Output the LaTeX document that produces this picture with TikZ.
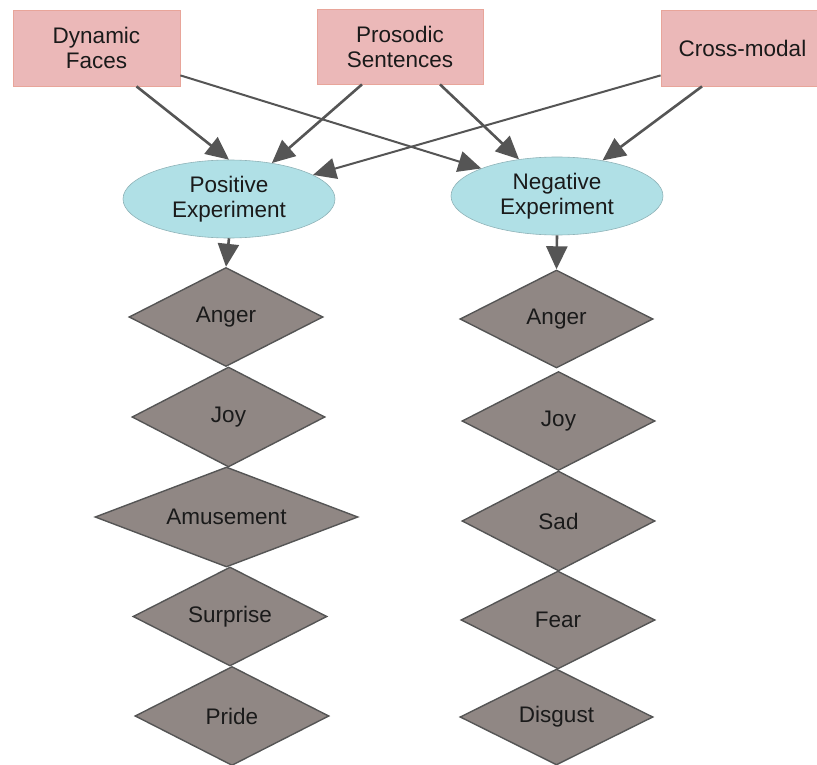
\documentclass[tikz,border=0pt]{standalone}
\usepackage{fontspec}
\setmainfont{Liberation Sans}
\usetikzlibrary{shapes.geometric,arrows.meta}
\definecolor{boxfill}{HTML}{EBB8B8}
\definecolor{boxline}{HTML}{E8A59A}
\definecolor{ellfill}{HTML}{B0E0E6}
\definecolor{ellline}{HTML}{8FB3B8}
\definecolor{diafill}{HTML}{908784}
\definecolor{darkline}{HTML}{555555}
\definecolor{txt}{HTML}{1A1A1A}
\begin{document}
\begin{tikzpicture}[x=1pt,y=-1pt,
  every node/.style={font=\fontsize{22.5}{25}\selectfont, text=txt, align=center, inner sep=0pt},
  srcbox/.style={rectangle, fill=boxfill, draw=boxline, line width=0.8pt},
  expell/.style={ellipse, fill=ellfill, draw=ellline, line width=0.6pt, minimum width=212pt, minimum height=78pt},
  emo/.style={diamond, shape aspect=2, fill=diafill, draw=darkline, line width=1.4pt, minimum height=99pt},
  link/.style={draw=darkline, line width=2.6pt, -{Triangle[length=23pt,width=21pt]}},
  thinlink/.style={draw=darkline, line width=2pt, -{Triangle[length=23pt,width=21pt]}}
]
\useasboundingbox (0,0) rectangle (817,765);
% source boxes
\node[srcbox, minimum width=167pt, minimum height=76pt] (df) at (96.5,48) {Dynamic\\Faces};
\node[srcbox, minimum width=166pt, minimum height=75pt] (ps) at (400,46.5) {Prosodic\\Sentences};
\node[srcbox, minimum width=163pt, minimum height=76pt] (cm) at (742.5,48) {Cross-modal};
% experiments
\node[expell] (pos) at (229,199) {Positive\\Experiment};
\node[expell] (neg) at (557,196) {Negative\\Experiment};
% positive emotions
\node[emo, minimum width=194pt] (la) at (226,317) {Anger};
\node[emo, minimum width=193pt, minimum height=100pt] (lj) at (228.5,417) {Joy};
\node[emo, shape aspect=2.63, minimum width=263pt, minimum height=100pt] (lm) at (226.5,517) {Amusement};
\node[emo, minimum width=194pt] (ls) at (230,616.5) {Surprise};
\node[emo, minimum width=194pt] (lp) at (232,716) {Pride};
% negative emotions
\node[emo, minimum width=193pt, minimum height=98pt] (ra) at (556.5,319) {Anger};
\node[emo, minimum width=193pt] (rj) at (558.5,421) {Joy};
\node[emo, minimum width=193pt, minimum height=100pt] (rs) at (558.5,521) {Sad};
\node[emo, minimum width=194pt, minimum height=98pt] (rf) at (558,620) {Fear};
\node[emo, minimum width=193pt, minimum height=96pt] (rd) at (556.5,717) {Disgust};
% connectors
\draw[link] ([xshift=40pt]df.south) -- (pos.north);
\draw[thinlink] ([yshift=11pt]df.south east) -- (neg.160);
\draw[link] ([xshift=-38pt]ps.south) -- (pos.40);
\draw[link] ([xshift=40pt]ps.south) -- (neg.136);
\draw[thinlink] ([yshift=11pt]cm.south west) -- (pos.16);
\draw[link] ([xshift=-40.5pt]cm.south) -- (neg.38);
\draw[link] (pos.south) -- (la.north);
\draw[link] (neg.south) -- (ra.north);
\end{tikzpicture}
\end{document}
